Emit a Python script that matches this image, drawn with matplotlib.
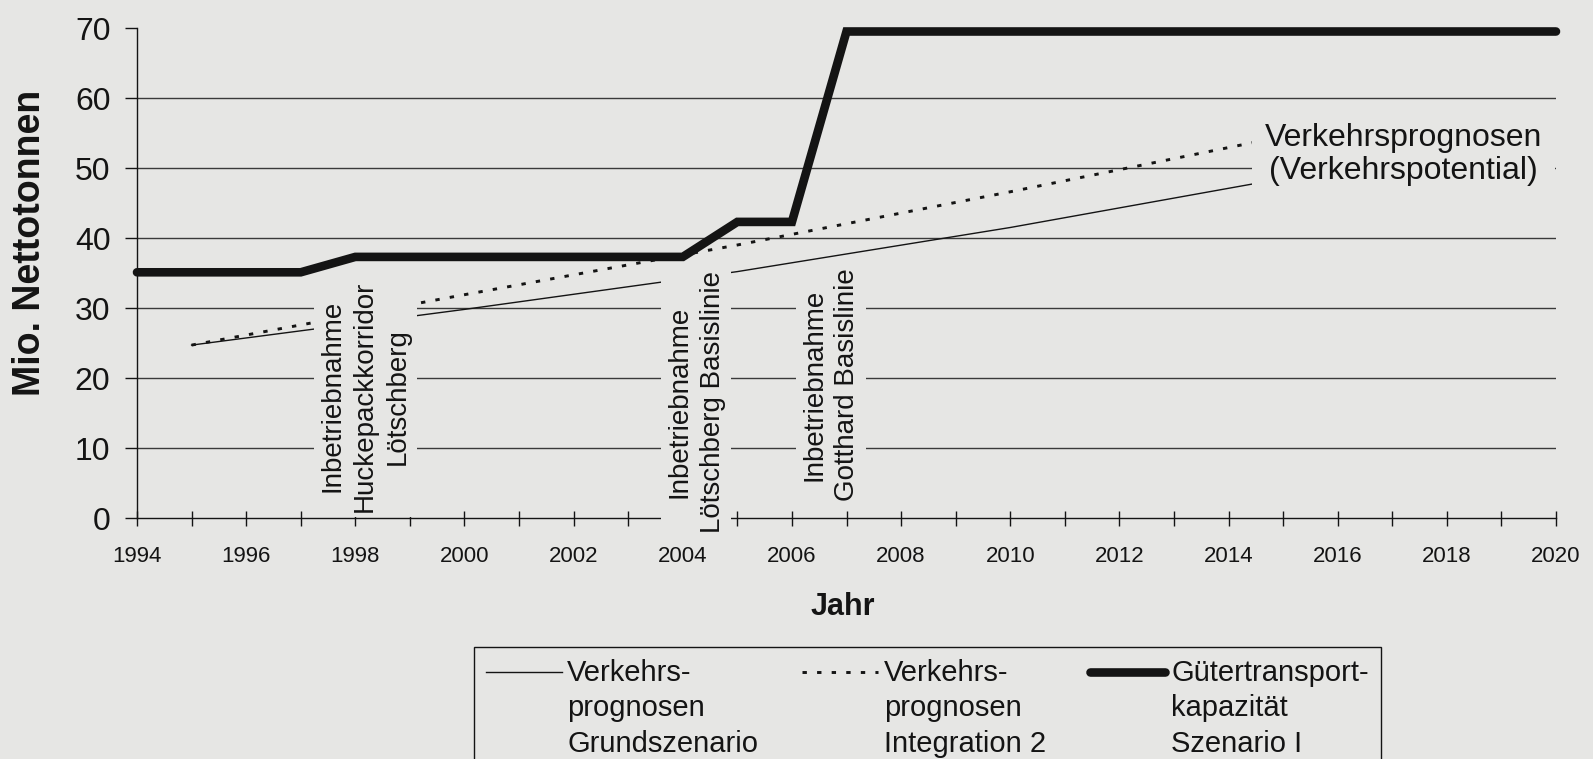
import numpy as np
import matplotlib
matplotlib.use('Agg')
import matplotlib.pyplot as plt
from matplotlib.legend_handler import HandlerLine2D
from matplotlib.ticker import MultipleLocator

plt.rcParams['font.family'] = ['Liberation Sans', 'DejaVu Sans']

# ---------------- data ----------------
years_grund = [1995, 2000, 2005, 2010, 2015]
vals_grund = [24.7, 29.8, 35.2, 41.5, 48.5]

years_integ = [1995, 2000, 2005, 2010, 2015]
vals_integ = [24.7, 31.9, 39.0, 46.6, 54.5]

years_kap = [1994, 1997, 1998, 2004, 2005, 2006, 2007, 2020]
vals_kap = [35.1, 35.1, 37.3, 37.3, 42.3, 42.3, 69.5, 69.5]

series_labels = ['Verkehrs-\nprognosen\nGrundszenario',
                 'Verkehrs-\nprognosen\nIntegration 2',
                 'Gütertransport-\nkapazität\nSzenario I']

y_ticks = [0, 10, 20, 30, 40, 50, 60, 70]
grid_levels = [10, 20, 30, 40, 50, 60]

event_labels = ['Inbetriebnahme\nHuckepackkorridor\nLötschberg',
                'Inbetriebnahme\nLötschberg Basislinie',
                'Inbetriebnahme\nGotthard Basislinie']
event_x = [1998.18, 2004.25, 2006.71]
event_y = [17.4, 16.6, 19.0]

forecast_label = 'Verkehrsprognosen\n(Verkehrspotential)'
forecast_x, forecast_y = 2017.2, 51.9

# ---------------- style ----------------
BG = '#e6e6e4'
INK = '#141414'
GRID = '#3a3a3a'

fig = plt.figure(figsize=(15.93, 7.59), dpi=100, facecolor=BG)
ax = fig.add_axes([137 / 1593, 1 - 518 / 759, (1556 - 137) / 1593, (518 - 28) / 759],
                  facecolor=BG)
ax.set_xlim(1994, 2020)
ax.set_ylim(0, 70)

for s in ['top', 'right']:
    ax.spines[s].set_visible(False)
for s in ['left', 'bottom']:
    ax.spines[s].set_color(INK)
    ax.spines[s].set_linewidth(1.0)

ax.xaxis.set_major_locator(MultipleLocator(2))
ax.xaxis.set_minor_locator(MultipleLocator(1))
ax.set_yticks(y_ticks)
ax.tick_params(axis='x', which='both', direction='inout', length=10.8, width=1.0,
               colors=INK, labelsize=16, pad=15)
ax.tick_params(axis='y', which='both', direction='out', length=8.6, width=1.0,
               colors=INK, labelsize=23, pad=10.5)

ax.hlines(grid_levels, 1994, 2020, colors=GRID, linewidth=1.0, zorder=1.5)

l1, = ax.plot(years_grund, vals_grund, color=INK, lw=1.0, zorder=2)
l2, = ax.plot(years_integ, vals_integ, color=INK, lw=2.1,
              linestyle=(0, (1.5, 3.5)), zorder=2)
l3, = ax.plot(years_kap, vals_kap, color=INK, lw=6.2, solid_capstyle='round',
              solid_joinstyle='miter', zorder=4, clip_on=False)

box = dict(boxstyle='square,pad=0.2', facecolor=BG, edgecolor='none')
for lab, x, y in zip(event_labels, event_x, event_y):
    ax.text(x, y, lab, rotation=90, ha='center', va='center', multialignment='center',
            fontsize=20, linespacing=1.35, color=INK, zorder=3, bbox=box)

ax.text(forecast_x, forecast_y, forecast_label, ha='center', va='center',
        multialignment='center', fontsize=23, linespacing=1.15, color=INK, zorder=3,
        bbox=dict(boxstyle='square,pad=0.4', facecolor=BG, edgecolor='none'))

fig.text(30.5 / 1593, 1 - 243 / 759, 'Mio. Nettotonnen', rotation=90, ha='center',
         va='center', fontsize=27, fontweight='bold', color=INK)
fig.text(843 / 1593, 1 - 607 / 759, 'Jahr', ha='center', va='center',
         fontsize=22, fontweight='bold', color=INK)


class TopLineHandler(HandlerLine2D):
    def __init__(self, shift, **kw):
        super().__init__(**kw)
        self.shift = shift

    def create_artists(self, legend, orig_handle, xdescent, ydescent, width, height,
                       fontsize, trans):
        arts = super().create_artists(legend, orig_handle, xdescent, ydescent, width,
                                      height, fontsize, trans)
        for a in arts:
            a.set_ydata(np.asarray(a.get_ydata()) + self.shift * fontsize)
        return arts


LEG_LS = 1.35
shift = 1.28
hm = {l1: TopLineHandler(shift), l2: TopLineHandler(shift), l3: TopLineHandler(shift)}
leg = fig.legend([l1, l2, l3], series_labels, loc='upper left',
                 bbox_to_anchor=(474 / 1593, 1 - 647 / 759), ncol=3, fontsize=21,
                 frameon=True, fancybox=False, edgecolor=INK, facecolor=BG,
                 framealpha=1, borderpad=0.4, handlelength=2.6, handletextpad=0.2,
                 columnspacing=1.5, borderaxespad=0, handler_map=hm)
leg.get_frame().set_linewidth(1.0)
for t in leg.get_texts():
    t.set_linespacing(LEG_LS)
    t.set_color(INK)

fig.savefig('out.png', dpi=100, facecolor=BG)
